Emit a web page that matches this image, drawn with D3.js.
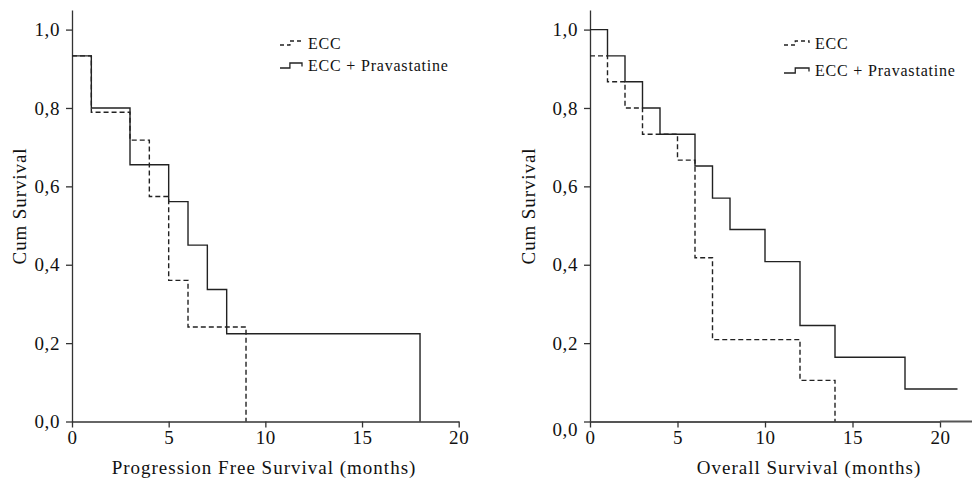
<!DOCTYPE html>
<html>
<head>
<meta charset="utf-8">
<script src="https://cdn.jsdelivr.net/npm/d3@7"></script>
<style>
  body { margin: 0; background: #fff; }
  svg { display: block; font-family: "Liberation Serif", "DejaVu Serif", serif; }
</style>
</head>
<body>
<svg id="chart" width="972" height="483"></svg>
<script>
// Kaplan-Meier step points: [months, cumulative survival]
const pfsEcc   = [[0, 0.933], [1, 0.789], [3, 0.718], [4, 0.574], [5, 0.36], [6, 0.241], [9, 0]];
const pfsPrava = [[0, 0.933], [1, 0.80], [3, 0.655], [5, 0.561], [6, 0.45], [7, 0.337], [8, 0.224], [18, 0]];
const osEcc    = [[0, 0.933], [1, 0.867], [2, 0.80], [3, 0.733], [5, 0.667], [6, 0.418], [7, 0.209], [12, 0.105], [14, 0]];
const osPrava  = [[0, 1], [1, 0.933], [2, 0.867], [3, 0.80], [4, 0.733], [6, 0.652], [7, 0.570], [8, 0.490],
                  [10, 0.408], [12, 0.245], [14, 0.164], [18, 0.083], [21, 0.083]];

const yTicks = [0, 0.2, 0.4, 0.6, 0.8, 1.0];
const xTicks = [0, 5, 10, 15, 20];
const legendLabels = ['ECC', 'ECC + Pravastatine'];

const svg = d3.select('#chart');
const fmt = d => d.toFixed(1).replace('.', ',');

function drawPanel(opts) {
  const g = svg.append('g');
  const x = d3.scaleLinear().domain(opts.xDomain).range(opts.xRange);
  const y = d3.scaleLinear().domain([0, 1.05]).range([421.5, 10]);

  // y axis
  const ya = g.append('g')
      .attr('transform', `translate(${opts.xRange[0]},0)`)
      .call(d3.axisLeft(y).tickValues(yTicks).tickFormat(fmt).tickSize(6).tickSizeOuter(0).tickPadding(6));
  ya.select('.domain').attr('stroke', '#333').attr('stroke-width', 1.3);
  ya.selectAll('.tick line').attr('stroke', '#333').attr('stroke-width', 1.3);
  ya.selectAll('.tick text')
      .attr('font-family', '"Liberation Serif", serif')
      .attr('font-size', 19)
      .attr('letter-spacing', 0.6)
      .attr('fill', '#111');
  if (opts.zeroShift) ya.selectAll('.tick text').filter(d => d === 0).attr('dy', '0.75em');

  // x axis
  const xa = g.append('g')
      .attr('transform', `translate(0,${y(0)})`)
      .call(d3.axisBottom(x).tickValues(xTicks).tickSize(6).tickSizeOuter(0).tickPadding(3));
  xa.select('.domain').attr('stroke', opts.xAxisColor).attr('stroke-width', opts.xAxisWidth);
  xa.selectAll('.tick line').attr('stroke', '#333').attr('stroke-width', 1.3);
  xa.selectAll('.tick text')
      .attr('font-family', '"Liberation Serif", serif')
      .attr('font-size', 19)
      .attr('letter-spacing', 0.6)
      .attr('fill', '#111');

  // axis titles
  g.append('text')
      .attr('transform', `translate(${opts.yTitleX},206) rotate(-90)`)
      .attr('text-anchor', 'middle')
      .attr('dy', '0.35em')
      .attr('font-size', 19)
      .attr('letter-spacing', 0.9)
      .attr('fill', '#111')
      .text('Cum Survival');
  g.append('text')
      .attr('x', opts.xTitleX)
      .attr('y', 474)
      .attr('text-anchor', 'middle')
      .attr('font-size', 19)
      .attr('letter-spacing', 1)
      .attr('fill', '#111')
      .text(opts.xTitle);

  // curves
  const line = d3.line().x(d => x(d[0])).y(d => y(d[1])).curve(d3.curveStepAfter);
  g.append('path').datum(opts.ecc)
      .attr('d', line).attr('fill', 'none')
      .attr('stroke', '#222').attr('stroke-width', 1.4).attr('stroke-dasharray', '5,3');
  g.append('path').datum(opts.prava)
      .attr('d', line).attr('fill', 'none')
      .attr('stroke', '#222').attr('stroke-width', 1.4);

  // legend
  const lg = g.append('g').attr('transform', `translate(${opts.legendX},0)`);
  const rows = [43, 65 + opts.legendRowShift];
  const w = opts.sampleW;
  lg.append('path')
      .attr('d', `M0,${rows[0] + 2}H${w * 0.45}V${rows[0] - 2}H${w}V${rows[0]}`)
      .attr('fill', 'none').attr('stroke', '#222').attr('stroke-width', 1.3).attr('stroke-dasharray', '4,3');
  lg.append('path')
      .attr('d', `M0,${rows[1] + 3}H${w * 0.45}V${rows[1] - 2}H${w}V${rows[1] + 1.5}`)
      .attr('fill', 'none').attr('stroke', '#222').attr('stroke-width', 1.3);
  legendLabels.forEach((t, i) => {
    lg.append('text')
        .attr('x', opts.legendTextX)
        .attr('y', rows[i])
        .attr('dy', '0.35em')
        .attr('font-size', 16)
        .attr('letter-spacing', 0.8)
        .attr('fill', '#111')
        .text(t);
  });
}

drawPanel({
  xDomain: [0, 20], xRange: [72, 458.7],
  ecc: pfsEcc, prava: pfsPrava,
  xTitle: 'Progression Free Survival (months)', xTitleX: 264,
  yTitleX: 19, xAxisColor: '#333', xAxisWidth: 1.3,
  legendX: 280, sampleW: 22, legendTextX: 28, legendRowShift: 0, zeroShift: false
});

drawPanel({
  xDomain: [0, 20], xRange: [590, 940],
  ecc: osEcc, prava: osPrava,
  xTitle: 'Overall Survival (months)', xTitleX: 809,
  yTitleX: 528, xAxisColor: '#555', xAxisWidth: 2,
  legendX: 784, sampleW: 25, legendTextX: 31, legendRowShift: 5, zeroShift: true
});

// right panel x axis runs on to the edge of the figure
svg.append('line')
    .attr('x1', 940).attr('x2', 972).attr('y1', 421.5).attr('y2', 421.5)
    .attr('stroke', '#555').attr('stroke-width', 2);
</script>
</body>
</html>
